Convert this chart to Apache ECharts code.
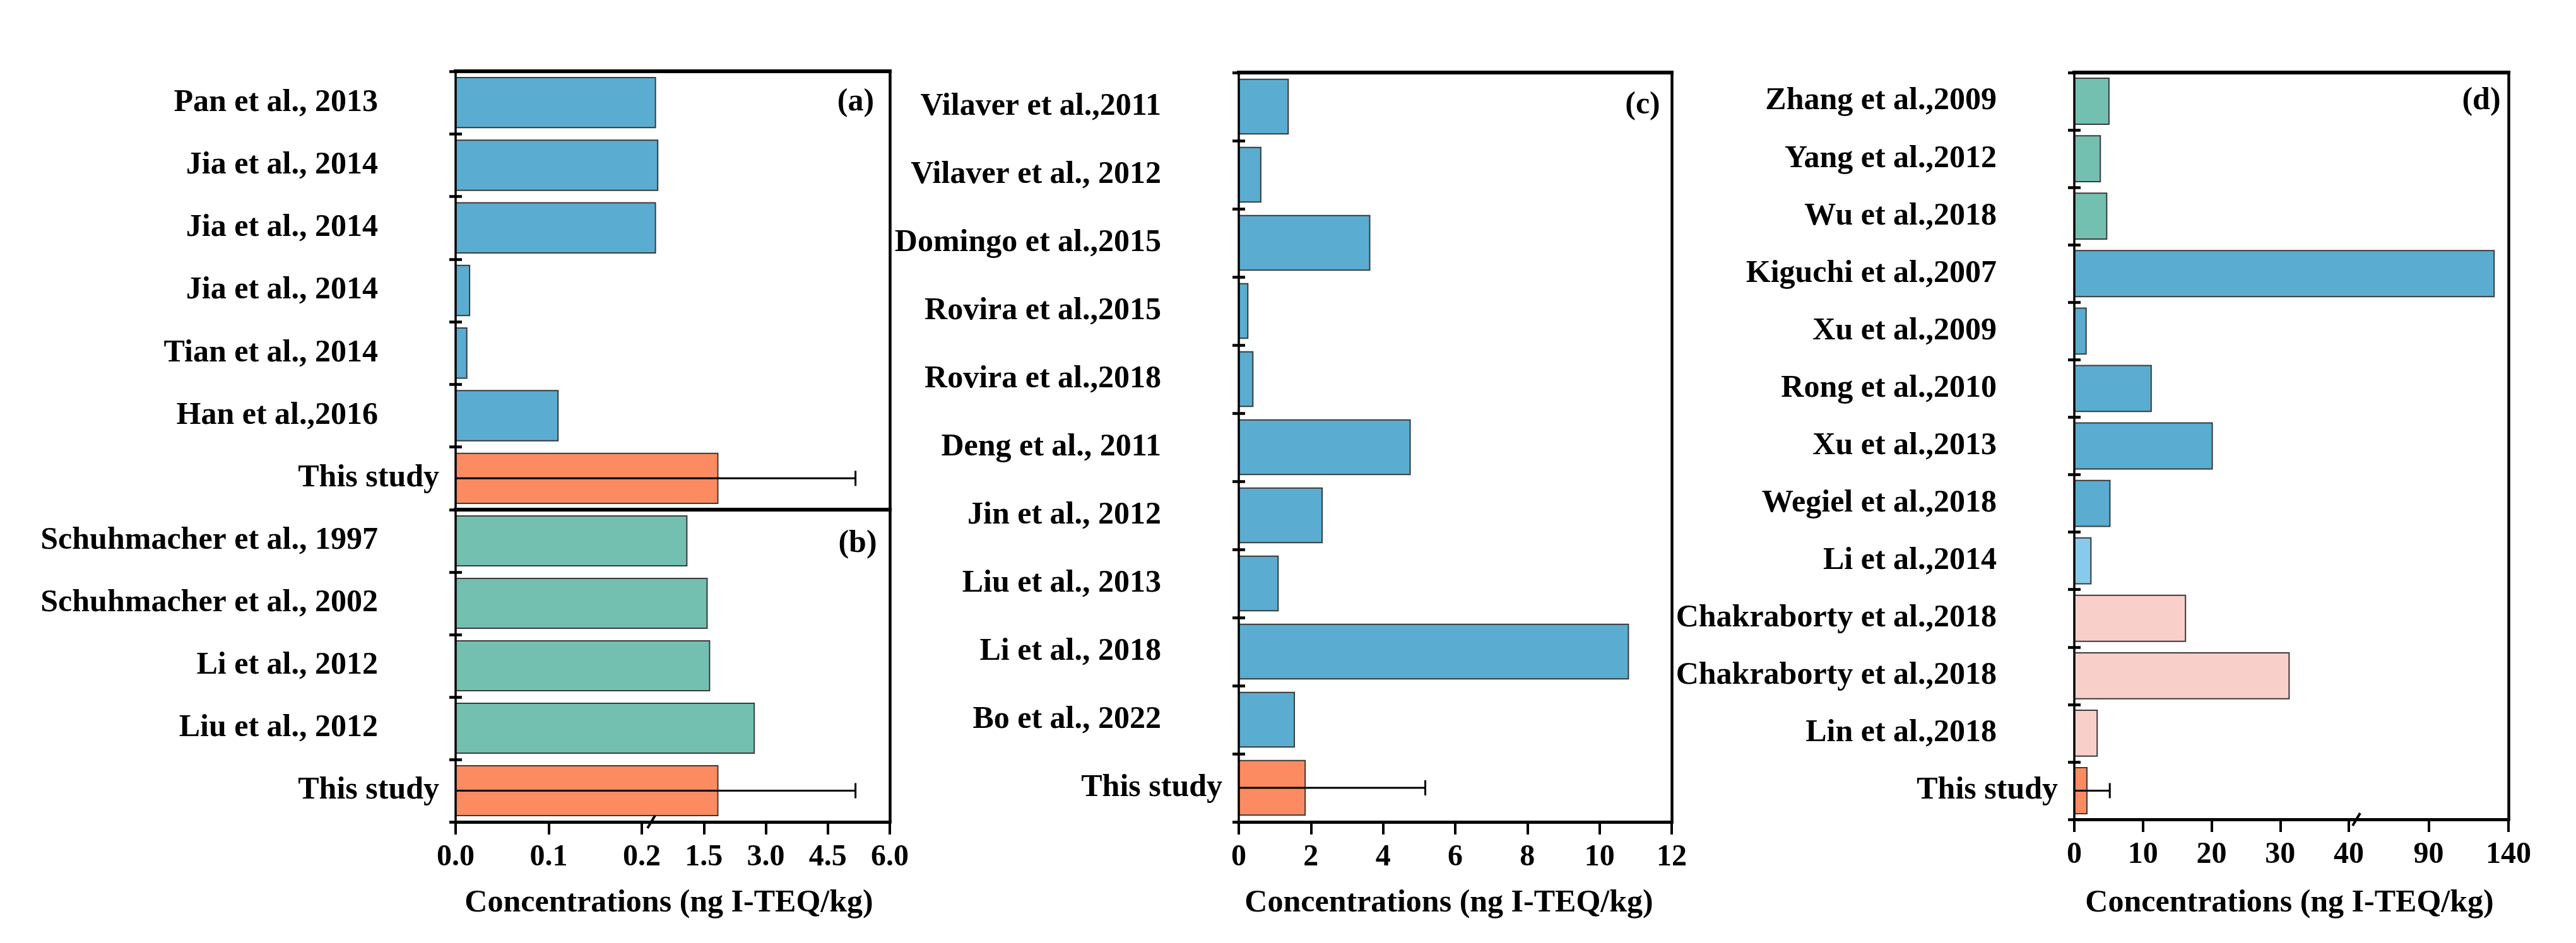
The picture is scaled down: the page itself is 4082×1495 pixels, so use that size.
<!DOCTYPE html>
<html>
<head>
<meta charset="utf-8">
<script src="https://cdn.jsdelivr.net/npm/echarts@6/dist/echarts.min.js"></script>
<style>html,body{margin:0;padding:0;background:#fff;}#chart{width:4082px;height:1495px;}</style>
</head>
<body>
<div id="chart"></div>
<script>
// ---------------- data ----------------
const catsA = ['Pan et al., 2013', 'Jia et al., 2014', 'Jia et al., 2014', 'Jia et al., 2014', 'Tian et al., 2014', 'Han et al.,2016', 'This study'];
const valsA = [0.33, 0.385, 0.33, 0.015, 0.012, 0.11, 1.84];

const catsB = ['Schuhmacher et al., 1997', 'Schuhmacher et al., 2002', 'Li et al., 2012', 'Liu et al., 2012', 'This study'];
const valsB = [1.09, 1.58, 1.64, 2.72, 1.84];

const catsC = ['Vilaver et al.,2011', 'Vilaver et al., 2012', 'Domingo et al.,2015', 'Rovira et al.,2015', 'Rovira et al.,2018', 'Deng et al., 2011', 'Jin et al., 2012', 'Liu et al., 2013', 'Li et al., 2018', 'Bo et al., 2022', 'This study'];
const valsC = [1.37, 0.61, 3.63, 0.25, 0.39, 4.75, 2.31, 1.09, 10.8, 1.54, 1.84];

const catsD = ['Zhang et al.,2009', 'Yang et al.,2012', 'Wu et al.,2018', 'Kiguchi et al.,2007', 'Xu et al.,2009', 'Rong et al.,2010', 'Xu et al.,2013', 'Wegiel et al.,2018', 'Li et al.,2014', 'Chakraborty et al.,2018', 'Chakraborty et al.,2018', 'Lin et al.,2018', 'This study'];
const valsD = [5.05, 3.79, 4.72, 131, 1.72, 11.2, 20.1, 5.19, 2.42, 16.2, 31.3, 3.33, 1.84];

const thisStudyErr = 3.33;           // error (+/-) of "This study"
const ticksA1 = [0, 0.1, 0.2];         // first axis segment, panels a/b
const ticksA2 = [1.5, 3.0, 4.5, 6.0];  // second axis segment, panels a/b
const ticksC = [0, 2, 4, 6, 8, 10, 12];
const ticksD1 = [0, 10, 20, 30, 40];
const ticksD2 = [90, 140];
const axisTitle = 'Concentrations (ng I-TEQ/kg)';

// ---------------- styles ----------------
const BLUE = '#5AADD0', TEAL = '#74C0B0', ORANGE = '#FC8B61', PINK = '#F9CFCA', LBLUE = '#88CAEC';
const colorsA = [BLUE, BLUE, BLUE, BLUE, BLUE, BLUE, ORANGE];
const colorsB = [TEAL, TEAL, TEAL, TEAL, ORANGE];
const colorsC = [BLUE, BLUE, BLUE, BLUE, BLUE, BLUE, BLUE, BLUE, BLUE, BLUE, ORANGE];
const colorsD = [TEAL, TEAL, TEAL, BLUE, BLUE, BLUE, BLUE, BLUE, LBLUE, PINK, PINK, PINK, ORANGE];
const FONT = 'Liberation Serif';

const grid = [], xAxis = [], yAxis = [], series = [];
function addGrid(left, top, width, height) { grid.push({ left, top, width, height }); return grid.length - 1; }

function addX(g, pos, ax, o) {
  xAxis.push({
    type: 'value', gridIndex: g, position: pos, min: ax.min, max: ax.max,
    interval: ax.interval, z: 5,
    axisLine: { show: true, onZero: false, lineStyle: { color: '#000', width: o.lw, cap: 'square' } },
    axisTick: { show: !!o.ticks, length: 20, lineStyle: { color: '#000', width: 4 }, customValues: ax.custom },
    axisLabel: { show: !!o.labels, margin: 33, fontFamily: FONT, fontWeight: 'bold', fontSize: 48, color: '#000',
      formatter: ax.fmt, showMinLabel: ax.showMin !== false, customValues: ax.custom },
    splitLine: { show: false }
  });
  return xAxis.length - 1;
}
function addYLabels(g, cats) {
  yAxis.push({
    type: 'category', gridIndex: g, data: cats, inverse: true, position: 'left', z: 5,
    axisLine: { show: true, onZero: false, lineStyle: { color: '#000', width: 3.5, cap: 'square' } },
    axisTick: { show: true, length: 10, lineStyle: { color: '#000', width: 4.5 } },
    axisLabel: {
      interval: 0, margin: 26, fontFamily: FONT, fontWeight: 'bold', fontSize: 50, color: '#000',
      formatter: v => v === 'This study' ? v : '{p|' + v + '}',
      rich: { p: { padding: [0, 97, 0, 0], fontFamily: FONT, fontWeight: 'bold', fontSize: 50, color: '#000' } }
    }
  });
  const idx = yAxis.length - 1;
  yAxis.push({
    type: 'category', gridIndex: g, data: cats, inverse: true, position: 'left', z: 5,
    axisLine: { show: false }, axisLabel: { show: false },
    axisTick: { show: true, inside: true, length: 10, lineStyle: { color: '#000', width: 4.5 } }
  });
  return idx;
}
function addYRight(g, cats) {
  yAxis.push({
    type: 'category', gridIndex: g, data: cats, inverse: true, position: 'right', z: 5,
    axisLine: { show: true, onZero: false, lineStyle: { color: '#000', width: 4.5, cap: 'square' } },
    axisTick: { show: false }, axisLabel: { show: false }
  });
  return yAxis.length - 1;
}

// bars: rectangle from the panel's zero (left edge of first segment) to the value on this segment's axis
function barSeries(xi, yi, vals, colors, keep, leftShift) {
  const data = [];
  vals.forEach((v, i) => { if (keep(v)) data.push([v, i]); });
  series.push({
    type: 'custom', coordinateSystem: 'cartesian2d', xAxisIndex: xi, yAxisIndex: yi, z: 2,
    encode: { x: 0, y: 1 }, data,
    renderItem: (params, api) => {
      const v = api.value(0), i = api.value(1);
      const end = api.coord([v, i]);
      const bw = api.size([0, 1])[1] * 0.8;
      const x0 = params.coordSys.x - leftShift;
      return { type: 'rect', shape: { x: x0, y: end[1] - bw / 2, width: end[0] - x0, height: bw },
        style: { fill: colors[i], stroke: '#3a3a3a', lineWidth: 2 } };
    }
  });
}
// error bar: mean +/- err, the lower side is clipped at the axis origin
function errSeries(xi, yi, vals, cats, err, leftShift) {
  const i = cats.indexOf('This study');
  series.push({
    type: 'custom', coordinateSystem: 'cartesian2d', xAxisIndex: xi, yAxisIndex: yi, z: 3,
    encode: { x: 0, y: 1 }, data: [[vals[i], i, err]],
    renderItem: (params, api) => {
      const v = api.value(0), c = api.value(1), e = api.value(2);
      const hi = api.coord([v + e, c]);
      const x0 = params.coordSys.x - leftShift;
      const cap = 12;
      return { type: 'group', children: [
        { type: 'line', shape: { x1: x0, y1: hi[1], x2: hi[0], y2: hi[1] }, style: { stroke: '#000', lineWidth: 3 } },
        { type: 'line', shape: { x1: hi[0], y1: hi[1] - cap, x2: hi[0], y2: hi[1] + cap }, style: { stroke: '#000', lineWidth: 3 } }
      ] };
    }
  });
}
// small slanted axis-break mark on the bottom axis, at the start of a segment
function breakMark(xi, yi, dx) {
  series.push({
    type: 'custom', coordinateSystem: 'cartesian2d', xAxisIndex: xi, yAxisIndex: yi, z: 6,
    data: [[0, 0]],
    renderItem: (params) => {
      const cs = params.coordSys, yb = cs.y + cs.height;
      return { type: 'line', shape: { x1: cs.x + dx, y1: yb + 10, x2: cs.x + dx + 12, y2: yb - 10 },
        style: { stroke: '#000', lineWidth: 4 } };
    }
  });
}

const f1 = v => v.toFixed(1);
const axA1 = { min: ticksA1[0], max: ticksA1[ticksA1.length - 1], interval: 0.1, fmt: f1 };
const axA2 = { min: 0, max: ticksA2[ticksA2.length - 1], interval: 1.5, fmt: f1, showMin: false };
const axC = { min: ticksC[0], max: ticksC[ticksC.length - 1], interval: 2 };
const axD1 = { min: ticksD1[0], max: ticksD1[ticksD1.length - 1], interval: 10 };
const axD2 = { min: ticksD1[ticksD1.length - 1], max: ticksD2[ticksD2.length - 1], custom: ticksD2 };
const BRK_AB = axA1.max, BRK_D = axD1.max;

// ---- panel a ----
const S1W = 295;
const gA1 = addGrid(722, 113, S1W, 695), gA2 = addGrid(722 + S1W, 113, 393, 695);
let xa1 = addX(gA1, 'bottom', axA1, { lw: 6 }); addX(gA1, 'top', axA1, { lw: 6 });
let xa2 = addX(gA2, 'bottom', axA2, { lw: 6 }); addX(gA2, 'top', axA2, { lw: 6 });
let ya1 = addYLabels(gA1, catsA), ya2 = addYRight(gA2, catsA);
barSeries(xa1, ya1, valsA, colorsA, v => v <= BRK_AB, 0);
barSeries(xa2, ya2, valsA, colorsA, v => v > BRK_AB, S1W);
errSeries(xa2, ya2, valsA, catsA, thisStudyErr, S1W);

// ---- panel b ----
const gB1 = addGrid(722, 808, S1W, 495), gB2 = addGrid(722 + S1W, 808, 393, 495);
let xb1 = addX(gB1, 'bottom', axA1, { lw: 5, ticks: true, labels: true });
let xb2 = addX(gB2, 'bottom', axA2, { lw: 5, ticks: true, labels: true });
let yb1 = addYLabels(gB1, catsB), yb2 = addYRight(gB2, catsB);
barSeries(xb1, yb1, valsB, colorsB, v => v <= BRK_AB, 0);
barSeries(xb2, yb2, valsB, colorsB, v => v > BRK_AB, S1W);
errSeries(xb2, yb2, valsB, catsB, thisStudyErr, S1W);
breakMark(xb2, yb2, 9);

// ---- panel c ----
const gC = addGrid(1963, 115, 686, 1188);
let xc = addX(gC, 'bottom', axC, { lw: 5, ticks: true, labels: true }); addX(gC, 'top', axC, { lw: 6 });
let yc = addYLabels(gC, catsC); addYRight(gC, catsC);
barSeries(xc, yc, valsC, colorsC, v => true, 0);
errSeries(xc, yc, valsC, catsC, thisStudyErr, 0);

// ---- panel d ----
const D1W = 435;
const gD1 = addGrid(3287, 115, D1W, 1184), gD2 = addGrid(3287 + D1W, 115, 253, 1184);
let xd1 = addX(gD1, 'bottom', axD1, { lw: 5, ticks: true, labels: true }); addX(gD1, 'top', axD1, { lw: 6 });
let xd2 = addX(gD2, 'bottom', axD2, { lw: 5, ticks: true, labels: true }); addX(gD2, 'top', axD2, { lw: 6 });
let yd1 = addYLabels(gD1, catsD), yd2 = addYRight(gD2, catsD);
barSeries(xd1, yd1, valsD, colorsD, v => v <= BRK_D, 0);
barSeries(xd2, yd2, valsD, colorsD, v => v > BRK_D, D1W);
errSeries(xd1, yd1, valsD, catsD, thisStudyErr, 0);
breakMark(xd2, yd2, 6);

const tStyle = { fontFamily: FONT, fontWeight: 'bold', fontSize: 50, color: '#000' };
const title = [
  { text: '(a)', left: 1356, top: 137, textAlign: 'center', padding: 0, textStyle: tStyle },
  { text: '(b)', left: 1359, top: 837, textAlign: 'center', padding: 0, textStyle: tStyle },
  { text: '(c)', left: 2603, top: 142, textAlign: 'center', padding: 0, textStyle: tStyle },
  { text: '(d)', left: 3932, top: 135, textAlign: 'center', padding: 0, textStyle: tStyle },
  { text: axisTitle, left: 1060, top: 1407, textAlign: 'center', padding: 0, textStyle: tStyle },
  { text: axisTitle, left: 2296, top: 1407, textAlign: 'center', padding: 0, textStyle: tStyle },
  { text: axisTitle, left: 3628, top: 1407, textAlign: 'center', padding: 0, textStyle: tStyle }
];

const chart = echarts.init(document.getElementById('chart'));
chart.setOption({ animation: false, backgroundColor: '#fff', title, grid, xAxis, yAxis, series });
</script>
</body>
</html>
